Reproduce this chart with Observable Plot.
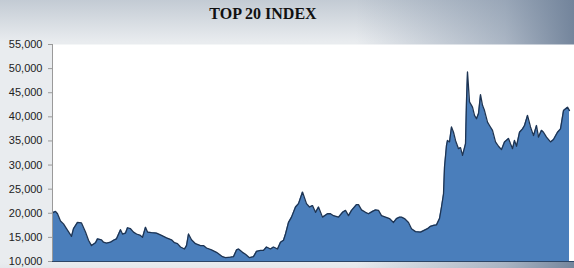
<!DOCTYPE html>
<html>
<head>
<meta charset="utf-8">
<script src="https://cdn.jsdelivr.net/npm/d3@7"></script>
<script src="https://cdn.jsdelivr.net/npm/@observablehq/plot@0.6"></script>
<style>
  html, body { margin: 0; padding: 0; }
  body {
    width: 574px; height: 268px; overflow: hidden; position: relative;
    background:
      linear-gradient(to right, rgba(118,136,160,0) 62%, rgba(118,136,160,0.55) 88%, rgba(110,128,152,0.95) 100%),
      linear-gradient(to bottom, #c3cbd4 0px, #e9ecef 42px, #e9ecef 262px, #e4e7eb 268px);
  }
  #title {
    position: absolute; top: 4px; left: 0; width: 526px; text-align: center;
    font-family: "Liberation Serif", "Times New Roman", serif; font-weight: bold;
    font-size: 16px; color: #111; line-height: 20px;
  }
  #chart { position: absolute; top: 0; left: 0; }
  #chart svg { background: transparent; overflow: visible; }
</style>
</head>
<body>
<div id="title">TOP 20 INDEX</div>
<div id="chart"></div>
<script>
// period index (weeks since start, estimated) and index level
const period = [0,3,5,8,11,14,19,21,25,29,33,36,39,43,45,49,51,54,58,61,64,68,70,73,75,78,81,84,88,90,93,95,99,104,109,114,119,122,125,128,132,134,136,139,143,148,151,154,159,164,170,173,178,181,184,186,190,193,197,201,204,208,211,214,218,221,225,228,231,233,236,239,243,246,250,254,257,260,263,266,270,275,278,281,286,290,293,296,299,304,306,309,313,316,320,323,326,329,333,337,341,344,347,349,352,356,359,363,368,371,375,378,381,384,387,389,391,392,394,395,397,399,401,403,406,408,410,413,414,415,417,420,422,424,426,428,430,432,435,437,440,443,446,449,452,456,458,460,462,464,467,470,472,475,478,481,484,486,489,491,494,498,501,505,508,511,515,517,520,522];
const level = [20100,20400,19900,18400,17800,16800,15200,16800,18100,18000,16100,14400,13300,13900,14700,14500,14000,13800,14000,14400,14700,16600,15700,15900,17000,16800,16100,15700,15400,15000,17100,16100,16000,15900,15400,14900,14500,13900,13700,13000,12600,13300,15700,14500,13700,13300,13300,12800,12400,11900,11000,10800,10900,11000,12400,12600,11900,11500,10800,11000,12100,12300,12300,13000,12600,13000,12600,14000,14400,15700,18100,19200,21300,22000,24400,22000,21300,21600,20200,21300,19200,19900,19900,19500,19200,20200,20600,19500,20600,21800,21800,20700,20200,19900,20400,20700,20600,19500,19200,18900,18100,18900,19200,19200,18900,18100,16800,16200,16100,16400,16800,17300,17500,17600,18900,21300,24000,29600,34100,35100,34800,37900,36800,35100,33400,33600,32000,34400,43400,49300,43100,42000,40300,39600,40700,44600,42400,41300,38900,38200,37200,34800,33900,33200,34800,35500,34400,33400,35100,33900,36800,37500,38200,40300,37900,36100,38200,35800,37200,36800,35800,34800,35300,36800,37500,41300,42000,41300];
const yTicks = [10000,15000,20000,25000,30000,35000,40000,45000,50000,55000];

const data = period.map((p, i) => ({p, v: level[i]}));
const fmt = d3.format(",");

const chart = Plot.plot({
  width: 574,
  height: 268,
  marginTop: 44,
  marginBottom: 7,
  marginLeft: 52,
  marginRight: 0,
  style: {fontFamily: "'Liberation Sans', Arial, sans-serif", fontSize: "11px", color: "#222", background: "transparent"},
  x: {domain: [0, 522], axis: null},
  y: {domain: [10000, 55000], ticks: yTicks, tickFormat: fmt, tickSize: 4, tickPadding: 6, label: null},
  marks: [
    Plot.frame({fill: "white", stroke: null}),
    Plot.areaY(data, {x: "p", y1: 10000, y2: "v", fill: "#4a7ebb"}),
    Plot.lineY(data, {x: "p", y: "v", stroke: "#1e3452", strokeWidth: 1.3}),
    Plot.ruleY([10000], {stroke: "#2c4566", strokeWidth: 1.2}),
    Plot.ruleX([0], {stroke: "#9a9a9a", strokeWidth: 1})
  ]
});
chart.querySelectorAll("[aria-label='y-axis tick']").forEach(g => g.setAttribute("stroke", "#9a9a9a"));
document.getElementById("chart").appendChild(chart);
</script>
</body>
</html>
